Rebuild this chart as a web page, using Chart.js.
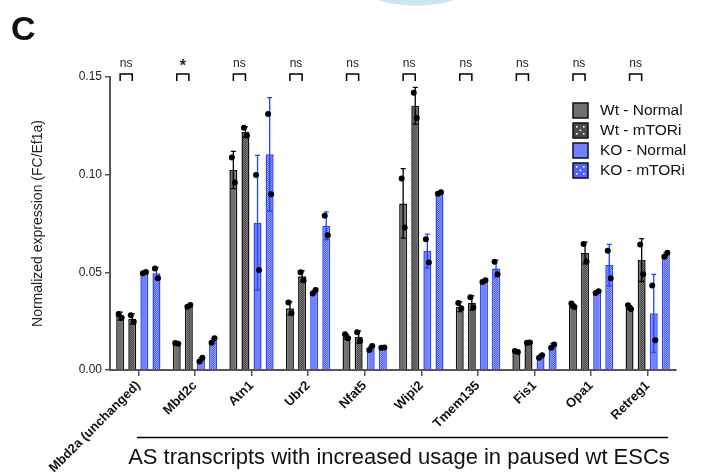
<!DOCTYPE html>
<html>
<head>
<meta charset="utf-8">
<script src="https://cdn.jsdelivr.net/npm/chart.js@4.4.1/dist/chart.umd.min.js"></script>
<style>
  html, body { margin: 0; padding: 0; background: #fff; }
  #wrap { width: 703px; height: 475px; position: relative; }
</style>
</head>
<body>
<div id="wrap"><canvas id="chart"></canvas></div>
<script>
// genes (categories)
const genes = ['Mbd2a (unchanged)', 'Mbd2c', 'Atn1', 'Ubr2', 'Nfat5', 'Wipi2', 'Tmem135', 'Fis1', 'Opa1', 'Retreg1'];
const groupLabels = ['Wt - Normal', 'Wt - mTORi', 'KO - Normal', 'KO - mTORi'];
const signif = ['ns', '*', 'ns', 'ns', 'ns', 'ns', 'ns', 'ns', 'ns', 'ns'];

// means
const wtNormal = [0.0276, 0.0133, 0.1024, 0.0316, 0.0169, 0.0853, 0.0324, 0.0092, 0.0328, 0.0319];
const wtMtori  = [0.0261, 0.0328, 0.1218, 0.0480, 0.0169, 0.1353, 0.0343, 0.0142, 0.0599, 0.0563];
const koNormal = [0.0497, 0.0051, 0.0754, 0.0398, 0.0109, 0.0609, 0.0455, 0.0070, 0.0398, 0.0290];
const koMtori  = [0.0495, 0.0148, 0.1104, 0.0739, 0.0116, 0.0908, 0.0519, 0.0123, 0.0537, 0.0592];

// error (+/-)
const wtNormalErr = [0.0020, 0.0005, 0.0095, 0.0034, 0.0012, 0.0178, 0.0025, 0.0005, 0.0010, 0.0010];
const wtMtoriErr  = [0.0026, 0.0005, 0.0027, 0.0028, 0.0031, 0.0094, 0.0036, 0.0003, 0.0056, 0.0110];
const koNormalErr = [0.0005, 0.0012, 0.0345, 0.0010, 0.0012, 0.0087, 0.0006, 0.0007, 0.0005, 0.0200];
const koMtoriErr  = [0.0030, 0.0013, 0.0290, 0.0071, 0.0002, 0.0005, 0.0044, 0.0013, 0.0106, 0.0009];

// replicate points
const wtNormalPts = [[0.0287, 0.0268], [0.0138, 0.0135], [0.1088, 0.0960], [0.0345, 0.0290], [0.0183, 0.0162], [0.0980, 0.0730], [0.0343, 0.0316], [0.0097, 0.0092], [0.0341, 0.0322], [0.0331, 0.0312]];
const wtMtoriPts  = [[0.0280, 0.0247], [0.0324, 0.0333], [0.1240, 0.1200], [0.0500, 0.0460], [0.0193, 0.0148], [0.1420, 0.1290], [0.0372, 0.0320], [0.0140, 0.0141], [0.0645, 0.0556], [0.0643, 0.0490]];
const koNormalPts = [[0.0495, 0.0502], [0.0043, 0.0063], [0.0998, 0.0512], [0.0392, 0.0410], [0.0102, 0.0123], [0.0670, 0.0550], [0.0450, 0.0460], [0.0063, 0.0075], [0.0394, 0.0403], [0.0432, 0.0152]];
const koMtoriPts  = [[0.0520, 0.0470], [0.0140, 0.0162], [0.1310, 0.0900], [0.0790, 0.0690], [0.0114, 0.0115], [0.0902, 0.0910], [0.0554, 0.0490], [0.0114, 0.0131], [0.0611, 0.0470], [0.0580, 0.0600]];

const FONT = '"Liberation Sans", Arial, Helvetica, sans-serif';

// fine checker pattern for the mTORi bars
function checker(a, b) {
  const c = document.createElement('canvas');
  c.width = 2; c.height = 2;
  const g = c.getContext('2d');
  g.fillStyle = a;
  g.fillRect(0, 0, 2, 2);
  g.fillStyle = b;
  g.fillRect(0, 0, 1, 1);
  g.fillRect(1, 1, 1, 1);
  return g.createPattern(c, 'repeat');
}

const wtGrey = '#6f6f6f';
const koBlue = '#7480ff';
const wtPattern = checker('#474747', '#7c7c7c');
const koPattern = checker('#4a5aff', '#95a0ff');

const errs = [wtNormalErr, wtMtoriErr, koNormalErr, koMtoriErr];
const pts = [wtNormalPts, wtMtoriPts, koNormalPts, koMtoriPts];
const errColors = ['#000', '#000', '#1f44ff', '#1f44ff'];

const extras = {
  id: 'extras',
  afterDatasetsDraw(chart) {
    const ctx = chart.ctx;
    const y = chart.scales.y;
    ctx.save();
    // error bars
    chart.data.datasets.forEach((ds, i) => {
      const meta = chart.getDatasetMeta(i);
      meta.data.forEach((bar, j) => {
        const m = ds.data[j];
        const e = errs[i][j];
        const yt = y.getPixelForValue(m + e);
        const yb = y.getPixelForValue(Math.max(0, m - e));
        ctx.strokeStyle = errColors[i];
        ctx.lineWidth = 1.3;
        ctx.beginPath();
        ctx.moveTo(bar.x, yb); ctx.lineTo(bar.x, yt);
        ctx.moveTo(bar.x - 2.5, yt); ctx.lineTo(bar.x + 2.5, yt);
        ctx.moveTo(bar.x - 2.5, yb); ctx.lineTo(bar.x + 2.5, yb);
        ctx.stroke();
      });
    });
    // replicate dots
    ctx.fillStyle = '#000';
    chart.data.datasets.forEach((ds, i) => {
      const meta = chart.getDatasetMeta(i);
      meta.data.forEach((bar, j) => {
        pts[i][j].forEach((v, k) => {
          ctx.beginPath();
          ctx.arc(bar.x + (k === 0 ? -1.5 : 1.5), y.getPixelForValue(v), 3, 0, Math.PI * 2);
          ctx.fill();
        });
      });
    });
    // significance brackets between the two Wt bars
    const m0 = chart.getDatasetMeta(0), m1 = chart.getDatasetMeta(1);
    const top = chart.chartArea.top - 3;
    ctx.strokeStyle = '#000';
    ctx.lineWidth = 1.5;
    ctx.fillStyle = '#222';
    ctx.textAlign = 'center';
    ctx.textBaseline = 'middle';
    signif.forEach((s, j) => {
      const x0 = m0.data[j].x, x1 = m1.data[j].x;
      ctx.beginPath();
      ctx.moveTo(x0, top + 7); ctx.lineTo(x0, top); ctx.lineTo(x1, top); ctx.lineTo(x1, top + 7);
      ctx.stroke();
      if (s === '*') {
        ctx.font = 'bold 16px ' + FONT;
        ctx.fillText(s, (x0 + x1) / 2, top - 7);
      } else {
        ctx.font = '12px ' + FONT;
        ctx.fillText(s, (x0 + x1) / 2, top - 10);
      }
    });
    ctx.restore();
  },
  afterDraw(chart) {
    const ctx = chart.ctx;
    const area = chart.chartArea;
    ctx.save();
    // legend
    const lx = area.right - 103, ly = area.top + 26;
    chart.data.datasets.forEach((ds, i) => {
      const by = ly + i * 20;
      ctx.fillStyle = i < 2 ? (i === 0 ? wtGrey : '#4a4a4a') : (i === 2 ? koBlue : '#5262ff');
      ctx.fillRect(lx, by, 15, 15);
      if (i % 2 === 1) {
        ctx.fillStyle = '#fff';
        [[3, 3], [10, 3], [6.5, 6.5], [3, 10], [10, 10]].forEach(p => ctx.fillRect(lx + p[0], by + p[1], 1.6, 1.6));
      }
      ctx.strokeStyle = '#111';
      ctx.lineWidth = 1.5;
      ctx.strokeRect(lx, by, 15, 15);
      ctx.fillStyle = '#111';
      ctx.font = '15.5px ' + FONT;
      ctx.textAlign = 'left';
      ctx.textBaseline = 'middle';
      ctx.fillText(ds.label, lx + 27, by + 8);
    });
    // x title with rule above
    ctx.strokeStyle = '#000';
    ctx.lineWidth = 1.5;
    ctx.beginPath();
    ctx.moveTo(137, 437.5); ctx.lineTo(668, 437.5);
    ctx.stroke();
    ctx.fillStyle = '#111';
    ctx.font = '22px ' + FONT;
    ctx.textAlign = 'center';
    ctx.textBaseline = 'middle';
    ctx.fillText('AS transcripts with increased usage in paused wt ESCs', 399, 458);
    // panel letter
    ctx.font = 'bold 34px ' + FONT;
    ctx.textAlign = 'left';
    ctx.textBaseline = 'alphabetic';
    ctx.fillText('C', 11, 40);
    // edge of neighbouring panel
    ctx.fillStyle = '#cfe3f1';
    ctx.beginPath();
    ctx.arc(416, -120, 126, 0, Math.PI * 2);
    ctx.fill();
    ctx.restore();
  }
};

const axisColor = '#555';

new Chart(document.getElementById('chart'), {
  type: 'bar',
  data: {
    labels: genes,
    datasets: [
      { label: groupLabels[0], data: wtNormal, backgroundColor: wtGrey, borderColor: '#111', borderWidth: 1.5 },
      { label: groupLabels[1], data: wtMtori, backgroundColor: wtPattern, borderColor: '#111', borderWidth: 1.5 },
      { label: groupLabels[2], data: koNormal, backgroundColor: koBlue, borderColor: '#2448ff', borderWidth: 1.5 },
      { label: groupLabels[3], data: koMtori, backgroundColor: koPattern, borderColor: '#2448ff', borderWidth: 1.5 },
    ],
  },
  options: {
    responsive: true,
    maintainAspectRatio: false,
    animation: false,
    layout: { padding: { top: 77, right: 27, left: 26, bottom: 0 } },
    datasets: { bar: { categoryPercentage: 0.855, barPercentage: 0.66 } },
    plugins: {
      legend: { display: false },
      tooltip: { enabled: false },
    },
    scales: {
      x: {
        grid: { display: true, drawOnChartArea: false, offset: false, drawTicks: true, tickLength: 6, color: axisColor, lineWidth: 1.5 },
        border: { color: axisColor, width: 2 },
        ticks: {
          autoSkip: false, maxRotation: 45, minRotation: 45, padding: 2,
          color: '#111', font: { family: FONT, size: 13, weight: 'bold' },
        },
        afterFit(scale) { scale.height = 105; },
      },
      y: {
        min: 0, max: 0.15,
        grid: { display: true, drawOnChartArea: false, drawTicks: true, tickLength: 5, color: axisColor, lineWidth: 1.5 },
        border: { color: axisColor, width: 2 },
        ticks: {
          stepSize: 0.05, padding: 3, color: '#222',
          font: { family: FONT, size: 12 },
          callback: v => v.toFixed(2),
        },
        title: { display: true, text: 'Normalized expression (FC/Ef1a)', color: '#222', font: { family: FONT, size: 14 }, padding: 4 },
        afterFit(scale) { scale.width = 84; },
      },
    },
  },
  plugins: [extras],
});
</script>
</body>
</html>
